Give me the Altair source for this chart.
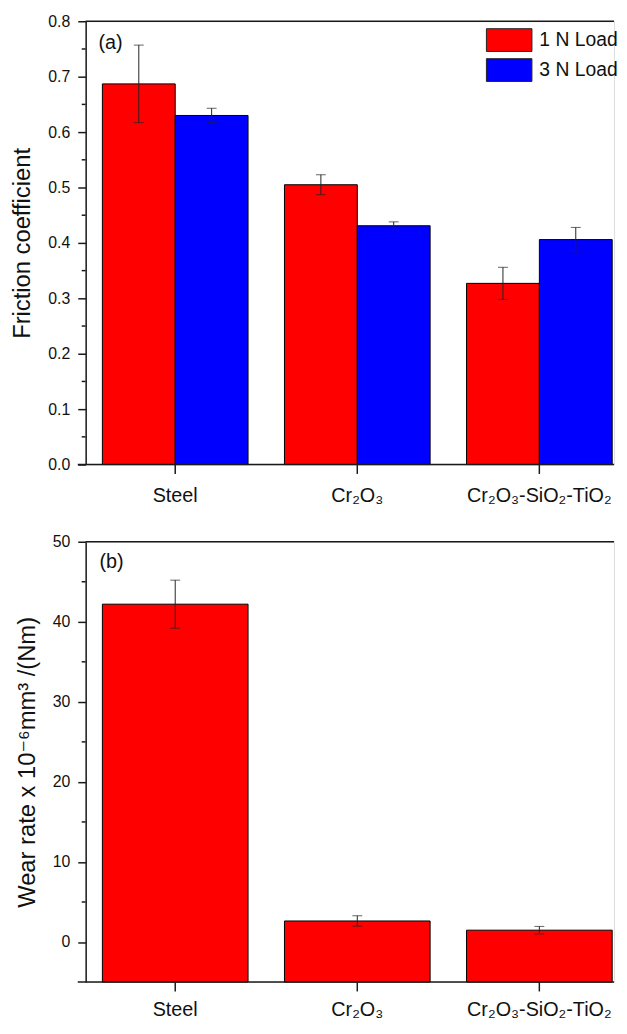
import altair as alt
import pandas as pd

# ---------------- data ----------------
materials = ["Steel", "Cr₂O₃", "Cr₂O₃-SiO₂-TiO₂"]
loads = ["1 N Load", "3 N Load"]
load_colors = ["#FF0000", "#0000FF"]

friction_1n = [0.687, 0.505, 0.327]
friction_1n_err = [0.070, 0.018, 0.029]
friction_3n = [0.630, 0.431, 0.406]
friction_3n_err = [0.013, 0.007, 0.022]

wear_rate = [42.2, 2.63, 1.48]
wear_rate_err = [3.0, 0.65, 0.47]

fric_ticks = [0.0, 0.1, 0.2, 0.3, 0.4, 0.5, 0.6, 0.7, 0.8]
fric_minor = [0.05, 0.15, 0.25, 0.35, 0.45, 0.55, 0.65, 0.75]
wear_ticks = [0, 10, 20, 30, 40, 50]
wear_minor = [5, 15, 25, 35, 45]
panel_labels = ["(a)", "(b)"]

FONT = "Liberation Sans, Arial, DejaVu Sans"

rows = []
for i, m in enumerate(materials):
    rows.append({"material": m, "load": loads[0], "value": friction_1n[i],
                 "lo": friction_1n[i] - friction_1n_err[i], "hi": friction_1n[i] + friction_1n_err[i]})
    rows.append({"material": m, "load": loads[1], "value": friction_3n[i],
                 "lo": friction_3n[i] - friction_3n_err[i], "hi": friction_3n[i] + friction_3n_err[i]})
fric_df = pd.DataFrame(rows)

wear_df = pd.DataFrame({
    "material": materials,
    "value": wear_rate,
    "lo": [v - e for v, e in zip(wear_rate, wear_rate_err)],
    "hi": [v + e for v, e in zip(wear_rate, wear_rate_err)],
})

W = 534          # visible plot width (the original frame continues past the page edge)
H_TOP = 448
H_BOT = 445
AXIS_COLOR = "#1a1a1a"

# band layout: step ~184 px, ~18 px gap on the left, frame cut off on the right
x_scale = alt.Scale(domain=materials, paddingInner=0.2, paddingOuter=0.051, align=0.9)


def x_axis(label_pad):
    return alt.Axis(title=None, labelFontSize=20, labelColor="#111", labelPadding=label_pad,
                    tickSize=9, tickWidth=1.5, tickColor=AXIS_COLOR, domain=False,
                    labelAngle=0, labelFont=FONT)


def y_axis(values, fmt, title, title_pad):
    return alt.Axis(values=values, format=fmt, title=title, labelFontSize=16,
                    labelColor="#111", labelPadding=8, tickSize=8, tickWidth=1.5,
                    tickColor=AXIS_COLOR, domainColor=AXIS_COLOR, domainWidth=1.5,
                    titleFontSize=24, titleFontWeight="normal", titleColor="#111",
                    titlePadding=title_pad, minExtent=38, maxExtent=38, grid=False,
                    labelFont=FONT, titleFont=FONT)


one_row = pd.DataFrame({"a": [0]})


def frame_rules(h):
    top_line = alt.Chart(one_row).mark_rule(color=AXIS_COLOR, strokeWidth=1.5).encode(
        x=alt.value(0), x2=alt.value(W), y=alt.value(0))
    bottom_line = alt.Chart(one_row).mark_rule(color=AXIS_COLOR, strokeWidth=1.5).encode(
        x=alt.value(-8), x2=alt.value(W), y=alt.value(h))
    return top_line, bottom_line


# ---------------- top panel ----------------
fy_scale = alt.Scale(domain=[0, 0.8], nice=False, zero=False)
fy_axis = y_axis(fric_ticks, ".1f", "Friction coefficient", 14)
xoff = alt.XOffset("load:N", sort=loads, scale=alt.Scale(domain=loads, paddingInner=0, paddingOuter=0))
X_top = alt.X("material:N", sort=materials, scale=x_scale, axis=x_axis(12))

base_top = alt.Chart(fric_df)

bars_top = base_top.mark_bar(stroke="black", strokeWidth=1).encode(
    x=X_top,
    xOffset=xoff,
    y=alt.Y("value:Q", scale=fy_scale, axis=fy_axis),
    y2=alt.datum(0),
    color=alt.Color("load:N", sort=loads,
                    scale=alt.Scale(domain=loads, range=load_colors),
                    legend=alt.Legend(title=None, orient="none", legendX=416, legendY=7,
                                      symbolType="M-2,-1H2V1H-2Z", symbolSize=529,
                                      symbolStrokeColor="#222", symbolStrokeWidth=1,
                                      symbolOpacity=1, labelFontSize=19.5, labelColor="#111",
                                      labelFont=FONT, labelOffset=18.5, rowPadding=2.3,
                                      padding=0)),
)

err_top = base_top.mark_rule(color="#222", strokeWidth=1).encode(
    x=X_top, xOffset=xoff,
    y=alt.Y("lo:Q", scale=fy_scale, axis=fy_axis), y2="hi:Q",
)
cap_lo_top = base_top.mark_tick(color="#222", size=10, thickness=1).encode(
    x=X_top, xOffset=xoff, y=alt.Y("lo:Q", scale=fy_scale, axis=fy_axis),
)
cap_hi_top = base_top.mark_tick(color="#222", size=10, thickness=1).encode(
    x=X_top, xOffset=xoff, y=alt.Y("hi:Q", scale=fy_scale, axis=fy_axis),
)
minor_top = alt.Chart(pd.DataFrame({"v": fric_minor})).mark_rule(color=AXIS_COLOR, strokeWidth=1.5).encode(
    x=alt.value(-4), x2=alt.value(0),
    y=alt.Y("v:Q", scale=fy_scale, axis=fy_axis),
)
label_top = alt.Chart(pd.DataFrame({"t": [panel_labels[0]]})).mark_text(
    align="left", baseline="middle", fontSize=20, font=FONT, color="#111"
).encode(text="t:N", x=alt.value(13), y=alt.value(22))

tl, bl = frame_rules(H_TOP)
top = alt.layer(bars_top, err_top, cap_lo_top, cap_hi_top, minor_top, tl, bl, label_top).properties(
    width=W, height=H_TOP)

# ---------------- bottom panel ----------------
wy_scale = alt.Scale(domain=[-5, 50], nice=False, zero=False)
wy_axis = y_axis(wear_ticks, "d", "Wear rate x 10⁻⁶mm³ /(Nm)", 9)
X_bot = alt.X("material:N", sort=materials, scale=x_scale, axis=x_axis(9))
base_bot = alt.Chart(wear_df)

bars_bot = base_bot.mark_bar(stroke="black", strokeWidth=1, color="#FF0000").encode(
    x=X_bot,
    y=alt.Y("value:Q", scale=wy_scale, axis=wy_axis),
    y2=alt.datum(-5),
)
err_bot = base_bot.mark_rule(color="#222", strokeWidth=1).encode(
    x=X_bot, y=alt.Y("lo:Q", scale=wy_scale, axis=wy_axis), y2="hi:Q",
)
cap_lo_bot = base_bot.mark_tick(color="#222", size=10, thickness=1).encode(
    x=X_bot, y=alt.Y("lo:Q", scale=wy_scale, axis=wy_axis),
)
cap_hi_bot = base_bot.mark_tick(color="#222", size=10, thickness=1).encode(
    x=X_bot, y=alt.Y("hi:Q", scale=wy_scale, axis=wy_axis),
)
minor_bot = alt.Chart(pd.DataFrame({"v": wear_minor})).mark_rule(color=AXIS_COLOR, strokeWidth=1.5).encode(
    x=alt.value(-4), x2=alt.value(0),
    y=alt.Y("v:Q", scale=wy_scale, axis=wy_axis),
)
label_bot = alt.Chart(pd.DataFrame({"t": [panel_labels[1]]})).mark_text(
    align="left", baseline="middle", fontSize=20, font=FONT, color="#111"
).encode(text="t:N", x=alt.value(14), y=alt.value(21))

tl2, bl2 = frame_rules(H_BOT)
bottom = alt.layer(bars_bot, err_bot, cap_lo_bot, cap_hi_bot, minor_bot, tl2, bl2, label_bot).properties(
    width=W, height=H_BOT)

chart = alt.vconcat(top, bottom, spacing=27).resolve_scale(
    x="independent", y="independent", color="independent"
).properties(
    padding={"left": 1.5, "top": -1, "right": 0, "bottom": 0}
).configure_view(
    stroke=None
).configure(font=FONT, background="white")

chart.save("out.html", embed_options={"renderer": "svg", "actions": False})
